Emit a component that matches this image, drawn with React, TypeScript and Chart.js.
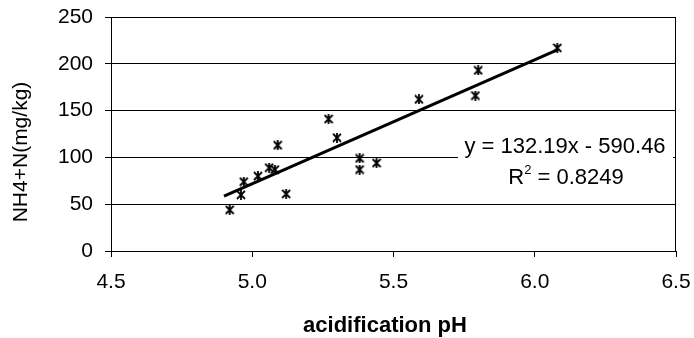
import React, { useEffect, useRef } from 'react';
import { Chart, registerables } from 'chart.js';
Chart.register(...registerables);

const phValues = [4.92, 4.96, 4.97, 5.02, 5.06, 5.08, 5.09, 5.12, 5.27, 5.30, 5.38, 5.38, 5.44, 5.59, 5.79, 5.80, 6.08];
const nh4Values = [44, 60, 74, 80, 89, 87, 113, 61, 141, 121, 99, 87, 94, 162, 166, 193, 217];
const trendPh = [4.9, 6.08];
const trendNh4 = [58.5, 215];
const xTicks = [4.5, 5.0, 5.5, 6.0, 6.5];
const yTicks = [0, 50, 100, 150, 200, 250];
const xTitle = 'acidification pH';
const yTitle = 'NH4+N(mg/kg)';
const equationText = 'y = 132.19x - 590.46';
const r2Text = ' = 0.8249';

const FONT = "Arial, 'Liberation Sans', sans-serif";

function makeStar(size: number) {
  const c = document.createElement('canvas');
  c.width = size;
  c.height = size;
  const ctx = c.getContext('2d')!;
  ctx.strokeStyle = '#000';
  ctx.lineWidth = 1.8;
  const m = 1;
  ctx.beginPath();
  ctx.moveTo(m, m);
  ctx.lineTo(size - m, size - m);
  ctx.moveTo(size - m, m);
  ctx.lineTo(m, size - m);
  ctx.moveTo(size / 2, 0);
  ctx.lineTo(size / 2, size);
  ctx.stroke();
  return c;
}

const decorPlugin = {
  id: 'decor',
  afterDraw(chart: any) {
    const ctx = chart.ctx as CanvasRenderingContext2D;
    const a = chart.chartArea;
    ctx.save();
    // right frame line
    ctx.strokeStyle = '#000';
    ctx.lineWidth = 1;
    const rx = Math.round(a.right) - 0.5;
    ctx.beginPath();
    ctx.moveTo(rx, a.top);
    ctx.lineTo(rx, a.bottom);
    ctx.stroke();

    // equation label
    ctx.fillStyle = '#fff';
    ctx.fillRect(458, 134, 215, 60);
    ctx.fillStyle = '#000';
    ctx.font = `22px ${FONT}`;
    ctx.textAlign = 'center';
    ctx.textBaseline = 'middle';
    ctx.fillText(equationText, 565, 147);
    const wR = ctx.measureText('R').width;
    const wRest = ctx.measureText(r2Text).width;
    ctx.font = `13px ${FONT}`;
    const w2 = ctx.measureText('2').width;
    const total = wR + w2 + wRest;
    const x0 = 566 - total / 2;
    ctx.textAlign = 'left';
    ctx.font = `22px ${FONT}`;
    ctx.fillText('R', x0, 178);
    ctx.font = `13px ${FONT}`;
    ctx.fillText('2', x0 + wR, 170);
    ctx.font = `22px ${FONT}`;
    ctx.fillText(r2Text, x0 + wR + w2, 178);

    // axis titles
    ctx.textAlign = 'center';
    ctx.font = `bold 22px ${FONT}`;
    ctx.fillText(xTitle, 385, 326);
    ctx.translate(21.5, 152);
    ctx.rotate(-Math.PI / 2);
    ctx.font = `21px ${FONT}`;
    ctx.fillText(yTitle, 0, 0);
    ctx.restore();
  },
};

function zeroPad(s: any) {
  s.paddingTop = 0;
  s.paddingBottom = 0;
  s.paddingLeft = 0;
  s.paddingRight = 0;
}

export default function App() {
  const ref = useRef<HTMLCanvasElement>(null);
  useEffect(() => {
    document.body.style.margin = '0';
    const star = makeStar(10);
    const chart = new Chart(ref.current!, {
      type: 'scatter',
      data: {
        datasets: [
          {
            data: phValues.map((x, i) => ({ x, y: nh4Values[i] })),
            pointStyle: star as any,
            pointRadius: 5,
            borderColor: '#000',
            backgroundColor: '#000',
          },
          {
            data: trendPh.map((x, i) => ({ x, y: trendNh4[i] })),
            showLine: true,
            pointRadius: 0,
            borderColor: '#000',
            borderWidth: 3,
          } as any,
        ],
      },
      options: {
        animation: false,
        responsive: false,
        layout: { padding: { top: 17, right: 18, left: 0, bottom: 0 } },
        plugins: { legend: { display: false }, tooltip: { enabled: false } },
        scales: {
          x: {
            type: 'linear',
            min: xTicks[0],
            max: xTicks[xTicks.length - 1],
            afterBuildTicks: (s: any) => {
              s.ticks = xTicks.map((v) => ({ value: v }));
            },
            afterFit: (s: any) => {
              s.height = 87;
              zeroPad(s);
            },
            ticks: {
              color: '#000',
              font: { family: FONT, size: 21 },
              padding: 13,
              maxRotation: 0,
              callback: (v: any) => Number(v).toFixed(1),
            },
            grid: { drawOnChartArea: false, drawTicks: true, tickLength: 6, color: '#000' },
            border: { display: true, color: '#000' },
          },
          y: {
            type: 'linear',
            min: yTicks[0],
            max: yTicks[yTicks.length - 1],
            afterBuildTicks: (s: any) => {
              s.ticks = yTicks.map((v) => ({ value: v }));
            },
            afterFit: (s: any) => {
              s.width = 111;
              zeroPad(s);
            },
            ticks: {
              color: '#000',
              font: { family: FONT, size: 21 },
              padding: 12,
            },
            grid: { color: '#000', drawTicks: true, tickLength: 6 },
            border: { display: true, color: '#000' },
          },
        },
      },
      plugins: [decorPlugin],
    });
    return () => chart.destroy();
  }, []);
  return (
    <div style={{ width: 694, height: 338 }}>
      <canvas ref={ref} width={694} height={338} style={{ display: 'block', width: 694, height: 338 }} />
    </div>
  );
}
